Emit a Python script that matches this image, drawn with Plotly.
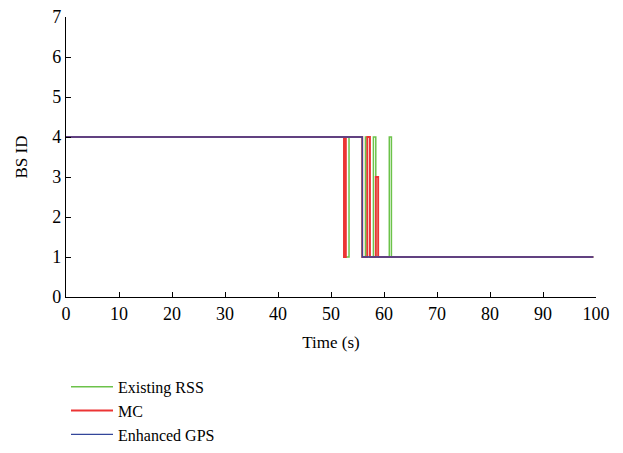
import plotly.graph_objects as go

# Step series: times of switches and BS ID held from that time (hv steps)
rss_t = [0, 52.45, 53.4, 55.9, 56.5, 56.85, 58.0, 58.45, 61.0, 61.4, 99.5]
rss_id = [4, 1, 4, 1, 4, 1, 4, 1, 4, 1, 1]

mc_t = [0, 52.45, 52.8, 55.9, 56.85, 57.35, 58.45, 58.9, 99.5]
mc_id = [4, 1, 4, 1, 4, 1, 3, 1, 1]

gps_t = [0, 55.9, 99.5]
gps_id = [4, 1, 1]

x_ticks = [0, 10, 20, 30, 40, 50, 60, 70, 80, 90, 100]
y_ticks = [0, 1, 2, 3, 4, 5, 6, 7]

FONT = "Liberation Serif, Times New Roman, serif"
tfont = dict(family=FONT, size=18, color="black")
titlefont = dict(family=FONT, size=17, color="black")

fig = go.Figure()
fig.add_trace(go.Scatter(x=rss_t, y=rss_id, mode="lines", line_shape="hv",
                         name="Existing RSS", line=dict(color="#6cc24a", width=1.5)))
fig.add_trace(go.Scatter(x=mc_t, y=mc_id, mode="lines", line_shape="hv",
                         name="MC", line=dict(color="#ec3434", width=1.9)))
fig.add_trace(go.Scatter(x=gps_t, y=gps_id, mode="lines", line_shape="hv",
                         name="Enhanced GPS", line=dict(color="#33469a", width=1.3)))

fig.update_layout(
    width=623, height=453,
    margin=dict(l=58, r=35, t=9, b=164, autoexpand=False),
    paper_bgcolor="white", plot_bgcolor="white",
    font=dict(family=FONT, size=17, color="black"),
    showlegend=True,
    legend=dict(x=0.0, y=-0.26, xanchor="left", yanchor="top",
                font=dict(family=FONT, size=16, color="black"),
                bgcolor="rgba(0,0,0,0)", itemwidth=42, tracegroupgap=0),
)
fig.update_xaxes(range=[0, 100], tickvals=x_ticks, ticks="inside", ticklen=5,
                 tickfont=tfont, automargin=False, ticklabeloverflow="allow",
                 showline=True, linecolor="black", linewidth=1.2, tickcolor="black",
                 showgrid=False, zeroline=False, mirror=False,
                 title=dict(text="Time (s)", font=titlefont, standoff=13))
fig.update_yaxes(range=[0, 7], tickvals=y_ticks, ticks="inside", ticklen=5,
                 tickfont=tfont, automargin=False, ticklabeloverflow="allow",
                 showline=True, linecolor="black", linewidth=1.2, tickcolor="black",
                 showgrid=False, zeroline=False, mirror=False,
                 title=dict(text="BS ID", font=titlefont, standoff=20))

fig.write_html("out.html")
